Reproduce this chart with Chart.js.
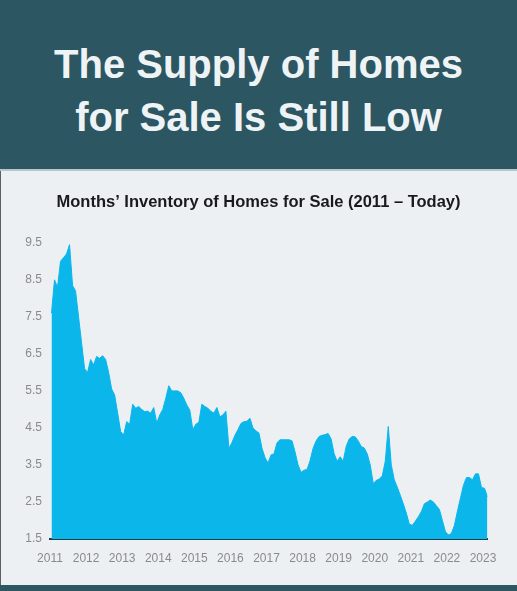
<!DOCTYPE html>
<html>
<head>
<meta charset="utf-8">
<script src="https://cdn.jsdelivr.net/npm/chart.js@4/dist/chart.umd.min.js"></script>
<style>
  html, body { margin: 0; padding: 0; }
  body { width: 517px; height: 591px; position: relative; overflow: hidden; background: #edf0f2; font-family: "Liberation Sans", Arial, sans-serif; }
  #header { position: absolute; left: 0; top: 0; width: 517px; height: 169px; background: #2c5662; color: #eef3f5; text-align: center; font-weight: bold; font-size: 40px; line-height: 53px; box-sizing: border-box; padding-top: 38px; }
  #band { position: absolute; left: 0; top: 169px; width: 517px; height: 2px; background: #b4c7ce; }
  #panel { position: absolute; left: 0; top: 171px; width: 517px; height: 414px; background: #edf0f2; border-left: 1px solid #5a5f62; box-sizing: border-box; }
  #foot { position: absolute; left: 0; top: 585px; width: 517px; height: 6px; background: #2c5662; }
  #wrap { position: absolute; left: 0; top: 171px; width: 517px; height: 414px; }
</style>
</head>
<body>
<div id="header">The Supply of Homes<br>for Sale Is Still Low</div>
<div id="band"></div>
<div id="panel"></div>
<div id="wrap"><canvas id="c" width="517" height="414"></canvas></div>
<div id="foot"></div>
<script>
const chartTitle = "Months\u2019 Inventory of Homes for Sale (2011 \u2013 Today)";
const startYear = 2011;
// Monthly months' inventory, Jan 2011 .. Feb 2023
const inventory = [
  7.6, 8.5, 8.3, 9.0, 9.1, 9.2, 9.45, 8.35, 8.2, 7.5,
  6.8, 6.1, 6.0, 6.35, 6.2, 6.43, 6.38, 6.45, 6.35, 6.0,
  5.55, 5.39, 4.9, 4.4, 4.31, 4.67, 4.6, 5.14, 5.03, 5.08,
  5.0, 4.94, 4.95, 4.9, 5.05, 4.63, 4.85, 5.0, 5.3, 5.64,
  5.5, 5.5, 5.5, 5.45, 5.3, 5.12, 4.98, 4.45, 4.6, 4.65,
  5.14, 5.08, 5.03, 4.95, 4.9, 5.05, 4.8, 4.85, 4.95, 3.95,
  4.1, 4.3, 4.45, 4.62, 4.67, 4.68, 4.76, 4.5, 4.42, 4.36,
  3.95, 3.7, 3.55, 3.77, 3.8, 4.1, 4.18, 4.18, 4.18, 4.18,
  4.15, 3.85, 3.5, 3.3, 3.36, 3.38, 3.62, 3.95, 4.15, 4.27,
  4.3, 4.32, 4.35, 4.2, 3.8, 3.6, 3.72, 3.6, 4.0, 4.2,
  4.27, 4.26, 4.15, 4.0, 3.96, 3.8, 3.5, 3.0, 3.08, 3.12,
  3.2, 3.6, 4.54, 3.5, 3.1, 2.9, 2.68, 2.45, 2.2, 1.9,
  1.87, 1.98, 2.1, 2.24, 2.45, 2.5, 2.55, 2.5, 2.4, 2.3,
  2.0, 1.7, 1.61, 1.65, 1.87, 2.25, 2.6, 2.95, 3.16, 3.16,
  3.1, 3.26, 3.26, 2.89, 2.87, 2.64
];
const yearTicks = [2011, 2012, 2013, 2014, 2015, 2016, 2017, 2018, 2019, 2020, 2021, 2022, 2023];
const yTicks = [1.5, 2.5, 3.5, 4.5, 5.5, 6.5, 7.5, 8.5, 9.5];

const points = inventory.map((v, i) => ({ x: startYear + (i + 0.5) / 12, y: v }));
const xMax = startYear + (inventory.length - 0.5) / 12;

new Chart(document.getElementById('c'), {
  type: 'line',
  data: {
    datasets: [{
      data: points,
      fill: 'start',
      backgroundColor: 'rgb(11,182,235)',
      borderColor: 'rgb(11,182,235)',
      borderWidth: 1,
      pointRadius: 0,
      tension: 0
    }]
  },
  options: {
    responsive: false,
    animation: false,
    layout: { padding: { left: 0, right: 0, top: 0, bottom: 0 } },
    plugins: {
      legend: { display: false },
      tooltip: { enabled: false },
      title: {
        display: true,
        text: chartTitle,
        color: '#1a1a1a',
        font: { family: "'Liberation Sans', Arial, sans-serif", size: 16.5, weight: 'bold' },
        padding: { top: 22, bottom: 30 }
      }
    },
    scales: {
      x: {
        type: 'linear',
        min: startYear,
        max: xMax,
        afterBuildTicks: s => { s.ticks = yearTicks.map(v => ({ value: v })); },
        afterFit: s => { s.height = 46; },
        grid: { display: false, drawTicks: false },
        border: { display: true, color: '#1d3a48', width: 2 },
        ticks: {
          padding: 12,
          color: '#8a8a8a',
          font: { family: "'Liberation Sans', Arial, sans-serif", size: 12 },
          maxRotation: 0,
          autoSkip: false,
          callback: v => String(v)
        }
      },
      y: {
        min: 1.5,
        max: 9.5,
        afterBuildTicks: s => { s.ticks = yTicks.map(v => ({ value: v })); },
        afterFit: s => { s.width = 50; },
        grid: { display: false, drawTicks: false },
        border: { display: false },
        ticks: {
          padding: 8,
          color: '#8a8a8a',
          font: { family: "'Liberation Sans', Arial, sans-serif", size: 12 },
          callback: v => v.toFixed(1)
        }
      },
      yRight: {
        type: 'linear',
        position: 'right',
        min: 1.5,
        max: 9.5,
        afterFit: s => { s.width = 29.5; },
        grid: { display: false, drawTicks: false },
        border: { display: false },
        ticks: { display: false }
      }
    }
  }
});
</script>
</body>
</html>
